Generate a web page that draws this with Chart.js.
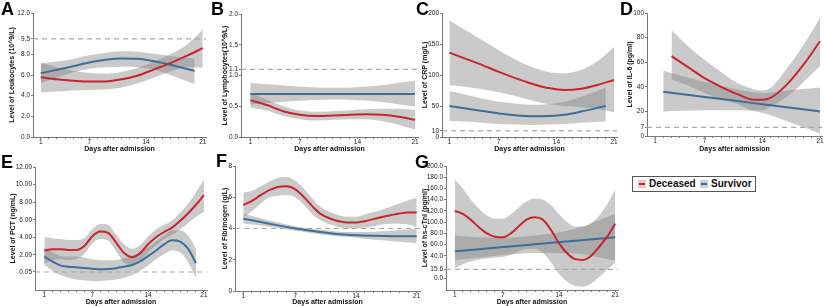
<!DOCTYPE html>
<html>
<head>
<meta charset="utf-8">
<script src="https://cdn.jsdelivr.net/npm/chart.js@4.4.0/dist/chart.umd.min.js"></script>
<style>
  body { margin: 0; background: #fff; width: 824px; height: 306px; overflow: hidden; position: relative; font-family: "Liberation Sans", Arial, sans-serif; }
  canvas { position: absolute; }
  .letter { position: absolute; font-weight: bold; font-size: 18px; line-height: 18px; color: #000; }
  #legend { position: absolute; left: 632px; top: 176px; width: 122px; height: 14px; border: 1px solid #555; background: #fff;
            font-weight: bold; font-size: 10px; line-height: 14px; color: #111; white-space: nowrap; }
  #legend span { position: absolute; top: 0; }
  #legend .sw { top: 3px; width: 8px; height: 8px; }
  #legend .sw i { position: absolute; left: 1px; right: 1px; top: 3px; height: 2px; }
</style>
</head>
<body>
<canvas id="pA"></canvas><canvas id="pB"></canvas><canvas id="pC"></canvas><canvas id="pD"></canvas>
<canvas id="pE"></canvas><canvas id="pF"></canvas><canvas id="pG"></canvas>
<div id="letters"></div>
<div id="legend"></div>
<script>
// ---------------------------------------------------
const seriesNames = [ 'Deceased', 'Survivor' ];
const dayTicks = [ 1, 2, 3, 4, 5, 6, 7, 8, 9, 10, 11, 12, 13, 14, 15, 16, 17, 18, 19, 20, 21 ];
const dayLabels = [ 1, 7, 14, 21 ];
const xTitle = 'Days after admission';

// A - Leukocytes
const aDays = [ 1, 3, 5, 7, 9, 11, 13, 15, 17, 19, 21 ];
const aDeceased   = [ 5.78, 5.58, 5.45, 5.37, 5.38, 5.58, 5.95, 6.55, 7.15, 7.85, 8.6 ];
const aDeceasedLo = [ 4.3, 4.4, 4.5, 4.55, 4.6, 4.8, 5.2, 5.75, 6.35, 6.8, 6.7 ];
const aDeceasedHi = [ 7.2, 6.75, 6.4, 6.2, 6.15, 6.3, 6.7, 7.3, 8.0, 8.9, 10.4 ];
const aSDays = [ 1, 3, 5, 7, 9, 11, 13, 15, 17, 20 ];
const aSurvivor   = [ 6.17, 6.5, 6.85, 7.2, 7.47, 7.6, 7.57, 7.33, 7.0, 6.4 ];
const aSurvivorLo = [ 5.2, 5.75, 6.25, 6.6, 6.75, 6.8, 6.75, 6.5, 6.0, 5.1 ];
const aSurvivorHi = [ 7.1, 7.3, 7.55, 7.9, 8.15, 8.3, 8.25, 8.05, 7.85, 7.6 ];
const aTicks = [ 0, 2, 4, 6, 8, 9.5, 12 ];

// B - Lymphocytes
const bDays = [ 1, 3, 5, 7, 9, 11, 13, 15, 17, 19, 21 ];
const bDeceased   = [ 0.6, 0.52, 0.42, 0.36, 0.34, 0.35, 0.36, 0.37, 0.36, 0.33, 0.28 ];
const bDeceasedLo = [ 0.48, 0.43, 0.34, 0.29, 0.27, 0.28, 0.29, 0.29, 0.26, 0.2, 0.12 ];
const bDeceasedHi = [ 0.72, 0.61, 0.5, 0.43, 0.41, 0.42, 0.43, 0.45, 0.46, 0.46, 0.44 ];
const bSDays = [ 1, 6, 11, 16, 21 ];
const bSurvivor   = [ 0.7, 0.7, 0.7, 0.7, 0.7 ];
const bSurvivorLo = [ 0.53, 0.58, 0.61, 0.58, 0.49 ];
const bSurvivorHi = [ 0.88, 0.83, 0.8, 0.83, 0.92 ];
const bTicks = [ 0, 0.5, 1.0, 1.1, 1.5, 2.0 ];

// C - CRP
const cDays = [ 1, 3, 5, 7, 9, 11, 13, 15, 17, 19, 21 ];
const cDeceased   = [ 136, 126, 116, 105, 95, 86, 79, 76, 78, 84, 92 ];
const cDeceasedLo = [ 84, 81, 77, 72, 66, 59, 53, 50, 48, 45, 40 ];
const cDeceasedHi = [ 188, 172, 156, 140, 125, 113, 105, 103, 108, 122, 145 ];
const cSDays = [ 1, 3, 5, 7, 9, 11, 13, 15, 17, 20 ];
const cSurvivor   = [ 50, 46, 42, 38, 35, 33.5, 34, 36, 41, 50 ];
const cSurvivorLo = [ 26, 25, 23, 21, 20, 19.5, 20, 21, 23, 25 ];
const cSurvivorHi = [ 74, 68, 62, 57, 54, 52, 53, 57, 65, 80 ];
const cTicks = [ 0, 10, 50, 100, 150, 200 ];

// D - IL-6
const dDays = [ 3, 5, 7, 9, 11, 13, 14, 15, 17, 19, 21 ];
const dDeceased   = [ 65, 56, 47, 40, 34, 29.5, 29.5, 31, 42, 58, 77 ];
const dDeceasedLo = [ 46, 41, 35, 30, 26, 21, 21, 24, 32, 44, 57 ];
const dDeceasedHi = [ 86, 73, 62, 52, 43, 38, 37, 39, 55, 74, 96 ];
const dSDays = [ 2, 7, 11, 14, 17, 21 ];
const dSurvivor   = [ 36, 31.8, 28.4, 25.9, 23.4, 20 ];
const dSurvivorLo = [ 20, 21, 21, 19, 12, 2 ];
const dSurvivorHi = [ 53, 44, 38, 35, 37, 39.5 ];
const dTicks = [ 0, 7, 20, 40, 60, 80, 100 ];

// E - PCT
const eDays = [ 1, 2, 3, 4, 5, 6, 7, 8, 9, 10, 11, 12, 13, 14, 15, 16, 17, 18, 19, 20, 21 ];
const eDeceased   = [ 2.5, 2.65, 2.65, 2.55, 2.55, 3.0, 4.1, 4.65, 4.5, 3.4, 2.2, 1.75, 2.2, 3.2, 4.0, 4.6, 5.1, 5.85, 6.7, 7.7, 8.8 ];
const eDeceasedLo = [ 1.0, 1.4, 1.5, 1.4, 1.5, 2.1, 3.3, 3.8, 3.6, 2.4, 1.1, 0.8, 1.3, 2.3, 3.1, 3.8, 4.3, 4.9, 5.6, 6.3, 6.9 ];
const eDeceasedHi = [ 4.0, 3.9, 3.8, 3.7, 3.7, 3.9, 4.9, 5.5, 5.4, 4.3, 3.2, 2.7, 3.1, 4.1, 4.9, 5.4, 5.9, 6.8, 7.8, 9.1, 10.6 ];
const eSDays = [ 1, 2, 3, 4, 5, 6, 7, 8, 9, 10, 11, 12, 13, 14, 15, 16, 17, 18, 19, 20 ];
const eSurvivor   = [ 1.8, 1.25, 0.8, 0.65, 0.6, 0.5, 0.42, 0.35, 0.38, 0.48, 0.65, 0.85, 1.25, 1.85, 2.5, 3.2, 3.65, 3.5, 2.7, 1.05 ];
const eSurvivorLo = [ 0.9, 0.2, -0.3, -0.6, -0.8, -0.9, -1.0, -1.0, -0.9, -0.8, -0.6, -0.3, 0.2, 0.8, 1.5, 2.1, 2.5, 2.3, 1.2, -0.6 ];
const eSurvivorHi = [ 2.8, 2.3, 1.9, 1.8, 1.8, 1.7, 1.5, 1.4, 1.4, 1.4, 1.6, 1.8, 2.3, 2.9, 3.5, 4.2, 4.8, 4.8, 4.2, 2.7 ];
const eTicks = [ 0.05, 2, 4, 6, 8, 10, 12 ];

// F - Fibrinogen
const fDays = [ 1, 2, 3, 4, 5, 6, 7, 8, 9, 10, 11, 12, 13, 14, 15, 16, 17, 18, 19, 20, 21 ];
const fDeceased   = [ 5.5, 5.77, 6.13, 6.45, 6.66, 6.7, 6.5, 6.0, 5.4, 4.9, 4.64, 4.47, 4.38, 4.38, 4.47, 4.6, 4.74, 4.85, 4.96, 5.02, 5.02 ];
const fDeceasedLo = [ 4.7, 5.1, 5.6, 6.0, 6.1, 6.15, 6.0, 5.5, 4.9, 4.5, 4.25, 4.1, 4.0, 4.0, 4.05, 4.15, 4.25, 4.3, 4.3, 4.25, 4.1 ];
const fDeceasedHi = [ 6.3, 6.4, 6.7, 7.0, 7.25, 7.3, 7.05, 6.55, 5.9, 5.35, 5.05, 4.85, 4.75, 4.75, 4.9, 5.05, 5.2, 5.4, 5.6, 5.8, 5.95 ];
const fSDays = [ 1, 3, 5, 7, 9, 11, 13, 15, 17, 19, 21 ];
const fSurvivor   = [ 4.62, 4.42, 4.2, 4.0, 3.84, 3.7, 3.6, 3.55, 3.52, 3.5, 3.5 ];
const fSurvivorLo = [ 4.3, 4.2, 4.02, 3.85, 3.7, 3.56, 3.45, 3.35, 3.25, 3.15, 3.05 ];
const fSurvivorHi = [ 4.95, 4.65, 4.38, 4.15, 3.98, 3.85, 3.77, 3.78, 3.82, 3.9, 4.0 ];
const fTicks = [ 0, 2, 4, 6, 8 ];

// G - hs-cTnI
const gDays = [ 1, 2, 3, 4, 5, 6, 7, 8, 9, 10, 11, 12, 13, 14, 15, 16, 17, 18, 19, 20, 21 ];
const gDeceased   = [ 120, 114.6, 104, 91, 80, 74, 73, 80, 93, 105, 108.6, 104, 86, 62, 44.5, 34, 32.6, 40, 56, 74, 97 ];
const gDeceasedLo = [ 18, 25, 30, 33, 35, 37, 38, 42, 48, 52, 52, 45, 28, 8, -6, -14, -15, -10, 2, 15, 28 ];
const gDeceasedHi = [ 176, 160, 140, 124, 112, 106, 106, 114, 126, 137, 142, 140, 130, 114, 100, 92, 92, 98, 112, 132, 158 ];
const gSDays = [ 1, 6, 11, 16, 21 ];
const gSurvivor   = [ 48, 54.2, 60.5, 66.8, 73 ];
const gSurvivorLo = [ 32, 40, 45, 44, 31 ];
const gSurvivorHi = [ 76, 72, 76, 88, 115 ];
const gTicks = [ 0, 15.6, 40, 60, 80, 100, 120, 140, 160, 180, 200 ];
// ---------------------------------------------------

const FONT = '"Liberation Sans", Arial, sans-serif';
const RED = '#c7252f';
const BLUE = '#3b6f9c';
const BAND = 'rgba(128,128,128,0.42)';
const AXIS = '#777';

function pts( xs, ys ) {
    return xs.map( ( x, i ) => ( { x: x, y: ys[ i ] } ) );
}
function curve( xs, ys, color ) {
    return { data: pts( xs, ys ), borderColor: color, borderWidth: 2, pointRadius: 0, fill: false, cubicInterpolationMode: 'monotone' };
}
function band( xs, ys, fillPrev ) {
    return { data: pts( xs, ys ), borderColor: 'rgba(0,0,0,0)', borderWidth: 1, backgroundColor: BAND, pointRadius: 0,
             fill: fillPrev ? '-1' : false, cubicInterpolationMode: 'monotone' };
}

function panel( id, p ) {
    const cv = document.getElementById( id );
    const [ bx, by, bw, bh ] = p.box;
    const [ pl, pr, pt, pb ] = p.plot;
    cv.width = bw; cv.height = bh;
    cv.style.left = bx + 'px'; cv.style.top = by + 'px';
    const yW = pl - bx;
    const xH = by + bh - pb;
    const d = p.dec;
    new Chart( cv, {
        type: 'line',
        data: {
            datasets: [
                curve( p.days, p.dec0, RED ),
                curve( p.sdays, p.sur, BLUE ),
                { data: [ { x: p.x[ 0 ], y: p.ref }, { x: p.x[ 1 ], y: p.ref } ], borderColor: '#aaa', borderWidth: 1.2,
                  borderDash: [ 5, 4 ], pointRadius: 0, fill: false },
                band( p.days, p.decHi, false ),
                band( p.days, p.decLo, true ),
                band( p.sdays, p.surHi, false ),
                band( p.sdays, p.surLo, true )
            ]
        },
        options: {
            responsive: false, animation: false, events: [],
            layout: { padding: { left: 0, top: pt - by, right: bx + bw - pr, bottom: 0 } },
            plugins: { legend: { display: false }, tooltip: { enabled: false } },
            scales: {
                x: {
                    type: 'linear', min: p.x[ 0 ], max: p.x[ 1 ],
                    afterBuildTicks: s => { s.ticks = dayTicks.map( v => ( { value: v } ) ); },
                    afterFit: s => { s.height = xH; },
                    ticks: { autoSkip: false, maxRotation: 0, minRotation: 0, padding: 0, color: '#222',
                             font: { size: 6.5, family: FONT, lineHeight: 1 },
                             callback: ( v, i ) => dayLabels.includes( dayTicks[ i ] ) ? String( dayTicks[ i ] ) : '' },
                    grid: { drawOnChartArea: false, drawTicks: true, tickLength: 2, color: AXIS },
                    border: { color: AXIS, width: 1 },
                    title: { display: true, text: xTitle, color: '#111', padding: 0,
                             font: { size: 7, weight: 'bold', family: FONT, lineHeight: 1 } }
                },
                y: {
                    type: 'linear', min: p.y[ 0 ], max: p.y[ 1 ],
                    afterBuildTicks: s => { s.ticks = p.ticks.map( v => ( { value: v } ) ); },
                    afterFit: s => { s.width = yW; },
                    ticks: { autoSkip: false, padding: 1, color: '#222', font: { size: 6.5, family: FONT, lineHeight: 1 },
                             callback: v => v.toFixed( d ) },
                    grid: { drawOnChartArea: false, drawTicks: true, tickLength: 2, color: AXIS },
                    border: { color: AXIS, width: 1 },
                    title: { display: true, text: p.title, color: '#111', padding: { top: p.tpad, bottom: 0 },
                             font: { size: 7, weight: 'bold', family: FONT, lineHeight: 1 } }
                }
            }
        }
    });
}

window.addEventListener( 'load', function () {
    panel( 'pA', { box: [ 0, 0, 210, 153 ], plot: [ 33, 206, 13, 137 ], x: [ 0.05, 21.4 ], y: [ 0, 12 ], ticks: aTicks, dec: 1,
        title: 'Level of Leukocytes (10^9/L)', tpad: 8.5, ref: 9.5,
        days: aDays, dec0: aDeceased, decLo: aDeceasedLo, decHi: aDeceasedHi,
        sdays: aSDays, sur: aSurvivor, surLo: aSurvivorLo, surHi: aSurvivorHi } );
    panel( 'pB', { box: [ 210, 0, 210, 153 ], plot: [ 241, 418, 14, 137 ], x: [ -0.13, 21.36 ], y: [ 0, 2 ], ticks: bTicks, dec: 1,
        title: 'Level of Lymphocytes(10^9/L)', tpad: 11.5, ref: 1.1,
        days: bDays, dec0: bDeceased, decLo: bDeceasedLo, decHi: bDeceasedHi,
        sdays: bSDays, sur: bSurvivor, surLo: bSurvivorLo, surHi: bSurvivorHi } );
    panel( 'pC', { box: [ 415, 0, 205, 153 ], plot: [ 442, 617, 13, 137 ], x: [ 0.1, 21.36 ], y: [ 0, 200 ], ticks: cTicks, dec: 0,
        title: 'Level of CRP (mg/L)', tpad: 6.5, ref: 10,
        days: cDays, dec0: cDeceased, decLo: cDeceasedLo, decHi: cDeceasedHi,
        sdays: cSDays, sur: cSurvivor, surLo: cSurvivorLo, surHi: cSurvivorHi } );
    panel( 'pD', { box: [ 620, 0, 204, 153 ], plot: [ 647, 822, 13, 136 ], x: [ 0.03, 21.24 ], y: [ 0, 100 ], ticks: dTicks, dec: 0,
        title: 'Level of IL-6 (pg/ml)', tpad: 6.5, ref: 7,
        days: dDays, dec0: dDeceased, decLo: dDeceasedLo, decHi: dDeceasedHi,
        sdays: dSDays, sur: dSurvivor, surLo: dSurvivorLo, surHi: dSurvivorHi } );
    panel( 'pE', { box: [ 0, 150, 210, 156 ], plot: [ 35, 207, 167, 290 ], x: [ -0.165, 21.38 ], y: [ -2, 12 ], ticks: eTicks, dec: 2,
        title: 'Level of PCT (ng/mL)', tpad: 9.5, ref: 0.05,
        days: eDays, dec0: eDeceased, decLo: eDeceasedLo, decHi: eDeceasedHi,
        sdays: eSDays, sur: eSurvivor, surLo: eSurvivorLo, surHi: eSurvivorHi } );
    panel( 'pF', { box: [ 210, 150, 212, 156 ], plot: [ 235, 420, 166, 291 ], x: [ 0.04, 21.38 ], y: [ 0, 8 ], ticks: fTicks, dec: 0,
        title: 'Level of Fibrinogen (g/L)', tpad: 11.5, ref: 4,
        days: fDays, dec0: fDeceased, decLo: fDeceasedLo, decHi: fDeceasedHi,
        sdays: fSDays, sur: fSurvivor, surLo: fSurvivorLo, surHi: fSurvivorHi } );
    panel( 'pG', { box: [ 415, 150, 205, 156 ], plot: [ 446, 618, 166, 290 ], x: [ -0.1, 21.35 ], y: [ -21, 200 ], ticks: gTicks, dec: 1,
        title: 'Level of hs-cTnI (pg/ml)', tpad: 6.5, ref: 15.6,
        days: gDays, dec0: gDeceased, decLo: gDeceasedLo, decHi: gDeceasedHi,
        sdays: gSDays, sur: gSurvivor, surLo: gSurvivorLo, surHi: gSurvivorHi } );

    // panel letters
    const letters = [ [ 'A', 1, 0 ], [ 'B', 211, 0 ], [ 'C', 416, 0 ], [ 'D', 620, 0 ], [ 'E', 1, 153 ], [ 'F', 216, 152 ], [ 'G', 415, 153 ] ];
    const holder = document.getElementById( 'letters' );
    letters.forEach( ( [ t, x, y ] ) => {
        const el = document.createElement( 'div' );
        el.className = 'letter'; el.textContent = t;
        el.style.left = x + 'px'; el.style.top = y + 'px';
        holder.appendChild( el );
    });

    // legend
    const lg = document.getElementById( 'legend' );
    const items = [ [ RED, '#f0c4c7', 5, 16 ], [ BLUE, '#c3d0dc', 67, 78 ] ];
    items.forEach( ( [ c, bg, sx, tx ], i ) => {
        const sw = document.createElement( 'span' );
        sw.className = 'sw'; sw.style.left = sx + 'px'; sw.style.background = bg;
        const bar = document.createElement( 'i' ); bar.style.background = c; sw.appendChild( bar );
        const tl = document.createElement( 'span' );
        tl.style.left = tx + 'px'; tl.textContent = seriesNames[ i ];
        lg.appendChild( sw ); lg.appendChild( tl );
    });
}, false );
</script>
</body>
</html>
